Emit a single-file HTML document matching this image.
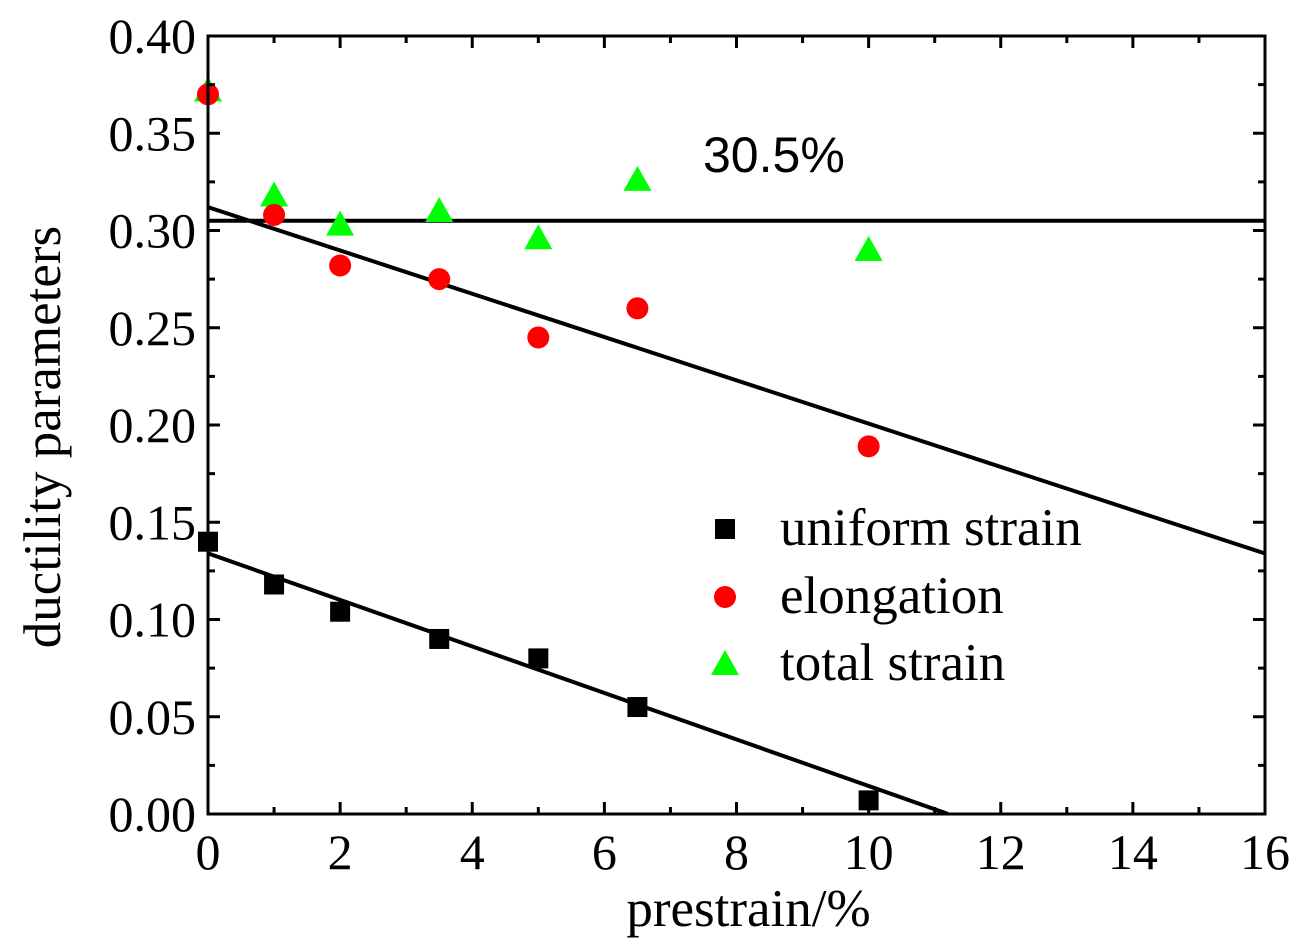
<!DOCTYPE html>
<html><head><meta charset="utf-8"><style>
html,body{margin:0;padding:0;background:#fff;}
svg{display:block;}
</style></head><body>
<svg id="chart" width="1303" height="949" xmlns="http://www.w3.org/2000/svg">
<g id="plot"></g>
</svg>
<script>
const xTicks=[0,2,4,6,8,10,12,14,16];
const yTicks=[0.00,0.05,0.10,0.15,0.20,0.25,0.30,0.35,0.40];
const prestrain=[0,1,2,3.5,5,6.5,10];
const uniformStrain=[0.14,0.118,0.104,0.09,0.08,0.055,0.007];
const elongation=[0.37,0.308,0.282,0.275,0.245,0.26,0.189];
const totalStrain=[0.372,0.318,0.303,0.31,0.296,0.326,0.29];
const refLevel=0.305;
const elongFit=[0.312,-0.01113];
const uniformFit=[0.134,-0.01196];

const L=208,R=1265,T=36,B=814;
const xs=v=>L+(v-0)/(16-0)*(R-L);
const ys=v=>B-(v-0)/(0.4-0)*(B-T);
const NS='http://www.w3.org/2000/svg';
const g=document.getElementById('plot');
function mk(tag,attrs,parent){const e=document.createElementNS(NS,tag);for(const k in attrs)e.setAttribute(k,attrs[k]);(parent||g).appendChild(e);return e;}

const defs=mk('defs',{});
const cp=mk('clipPath',{id:'clip'},defs);
mk('rect',{x:L,y:T,width:R-L,height:B-T},cp);

let ln=mk('line',{x1:xs(0),y1:ys(refLevel),x2:xs(16),y2:ys(refLevel),stroke:'#000','stroke-width':4,'clip-path':'url(#clip)'});


ln=mk('line',{x1:xs(0),y1:ys(elongFit[0]),x2:xs(16),y2:ys(elongFit[0]+elongFit[1]*16),stroke:'#000','stroke-width':4,'clip-path':'url(#clip)'});


const xz=-uniformFit[0]/uniformFit[1];
ln=mk('line',{x1:xs(0),y1:ys(uniformFit[0]),x2:xs(xz),y2:ys(0),stroke:'#000','stroke-width':4,'clip-path':'url(#clip)'});



function sq(cx,cy){return mk('rect',{x:cx-10,y:cy-10,width:20,height:20,fill:'#000'});}
function ci(cx,cy){return mk('circle',{cx:cx,cy:cy,r:11,fill:'#ff0000'});}
function tr(cx,cy){return mk('polygon',{points:`${cx},${cy-14} ${cx-14},${cy+11} ${cx+14},${cy+11}`,fill:'#00ff00'});}
prestrain.forEach((p,i)=>{
  let e=tr(xs(p),ys(totalStrain[i]));
  
  
  e=ci(xs(p),ys(elongation[i]));
  
  
  e=sq(xs(p),ys(uniformStrain[i]));
  
  
});

let fr=mk('rect',{x:L,y:T,width:R-L,height:B-T,fill:'none',stroke:'#000','stroke-width':3});



const font='"Liberation Serif",serif';
for(let v=0;v<=16;v+=1){
  const len=(v%2===0)?12:7;
  mk('line',{x1:xs(v),y1:B,x2:xs(v),y2:B-len,stroke:'#000','stroke-width':3});
  mk('line',{x1:xs(v),y1:T,x2:xs(v),y2:T+len,stroke:'#000','stroke-width':3});
}
xTicks.forEach(v=>{
  const t=mk('text',{x:xs(v),y:B+55,'text-anchor':'middle','font-family':font,'font-size':50});
  t.textContent=v;
  
  
});
for(let k=0;k<=16;k++){
  const v=k*0.025,len=(k%2===0)?12:7;
  mk('line',{x1:L,y1:ys(v),x2:L+len,y2:ys(v),stroke:'#000','stroke-width':3});
  mk('line',{x1:R,y1:ys(v),x2:R-len,y2:ys(v),stroke:'#000','stroke-width':3});
}
yTicks.forEach(v=>{
  const t=mk('text',{x:L-12,y:ys(v)+17,'text-anchor':'end','font-family':font,'font-size':50});
  t.textContent=v.toFixed(2);
  
  
});
let t=mk('text',{x:(L+R)/2+12,y:926,'text-anchor':'middle','font-family':font,'font-size':53});
t.textContent='prestrain/%';


t=mk('text',{x:0,y:0,'text-anchor':'middle','font-family':font,'font-size':53,transform:`translate(60,${(T+B)/2+12}) rotate(-90)`});
t.textContent='ductility parameters';


t=mk('text',{x:703,y:172,'font-family':'"Liberation Sans",sans-serif','font-size':50});
t.textContent='30.5%';



const legend=[['uniform strain',sq,529],['elongation',ci,597],['total strain',tr,664]];
legend.forEach(([lab,fn,yy])=>{
  const m=fn(725,yy);
  
  
  const tx=mk('text',{x:780,y:yy+16,'font-family':font,'font-size':53});
  tx.textContent=lab;
  
  
});
</script>
</body></html>
